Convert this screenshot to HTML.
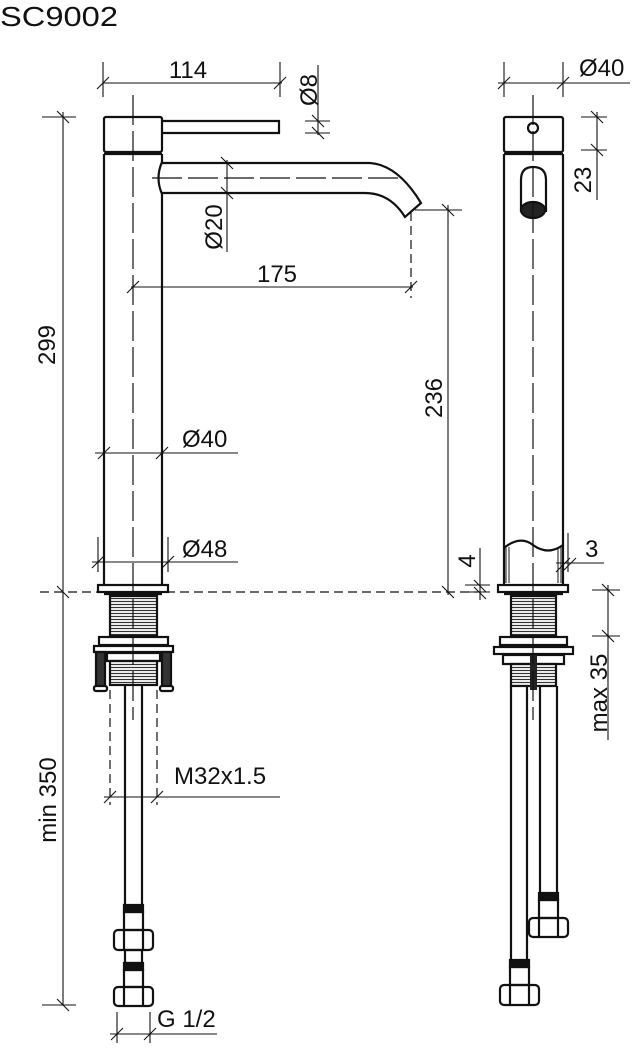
<!DOCTYPE html>
<html><head><style>
html,body{margin:0;padding:0;background:#fff;}
svg{display:block;}
text{font-family:"Liberation Sans",sans-serif;fill:#111;}
</style></head><body>
<svg width="635" height="1050" viewBox="0 0 635 1050" xmlns="http://www.w3.org/2000/svg">
<defs>
<pattern id="thr" width="4" height="3" patternUnits="userSpaceOnUse"><rect width="4" height="3" fill="#fff"/><line x1="0" y1="1.5" x2="4" y2="1.5" stroke="#333" stroke-width="1.2"/></pattern>
</defs>
<text x="0" y="26" font-size="28" textLength="118" lengthAdjust="spacingAndGlyphs">SC9002</text>

<!-- ===== LEFT VIEW ===== -->
<g fill="none" stroke="#111" stroke-width="2.2">
<rect x="104" y="117" width="58" height="35" rx="2"/>
<line x1="104" y1="154" x2="162" y2="154"/>
<path d="M162 121 H279 V133 H162"/>
<line x1="104" y1="154" x2="104" y2="585"/>
<line x1="162" y1="154" x2="162" y2="162"/>
<line x1="162" y1="194" x2="162" y2="585"/>
<path d="M162 162 Q155 178 162 194"/>
<path d="M162 163 H370 Q398 165 421 203 L405 217 Q390 193 365 193 H162"/>
<rect x="98" y="585" width="70" height="7"/>
<line x1="104" y1="594" x2="162" y2="594"/>
<rect x="110" y="596" width="47" height="40" fill="url(#thr)"/>
<rect x="99" y="637" width="69" height="8"/>
<rect x="94" y="646" width="79" height="6"/>
<rect x="107" y="653" width="53" height="8"/>
<rect x="110" y="661" width="47" height="24" fill="url(#thr)"/>
<rect x="96" y="652" width="9" height="36" fill="#333"/>
<rect x="162" y="652" width="9" height="36" fill="#333"/>
<rect x="94" y="686" width="13" height="5" rx="2" fill="#fff"/>
<rect x="160" y="686" width="13" height="5" rx="2" fill="#fff"/>
<line x1="125" y1="685" x2="125" y2="905"/>
<line x1="142" y1="685" x2="142" y2="905"/>
<rect x="124" y="905" width="19" height="7" fill="#111"/>
<rect x="124" y="912" width="19" height="18"/>
<rect x="114" y="930" width="39" height="20" rx="4"/>
<line x1="124" y1="930" x2="124" y2="950"/><line x1="143" y1="930" x2="143" y2="950"/>
<rect x="125" y="950" width="17" height="13"/>
<rect x="124" y="963" width="19" height="7" fill="#111"/>
<rect x="124" y="970" width="19" height="17"/>
<rect x="114" y="987" width="39" height="19" rx="4"/>
<line x1="124" y1="987" x2="124" y2="1006"/><line x1="143" y1="987" x2="143" y2="1006"/>
</g>
<g fill="none" stroke="#111" stroke-width="1.2" stroke-dasharray="30,6">
<line x1="133" y1="95" x2="133" y2="720"/>
<line x1="152" y1="178" x2="400" y2="178"/>
</g>
<g fill="none" stroke="#111" stroke-width="1.2" stroke-dasharray="9,5">
<line x1="411" y1="212" x2="411" y2="298"/>
<line x1="40" y1="592" x2="478" y2="592"/>
<line x1="110" y1="690" x2="110" y2="805"/>
<line x1="157" y1="690" x2="157" y2="805"/>
</g>

<g fill="none" stroke="#111" stroke-width="1.1">
<line x1="103" y1="62" x2="103" y2="97"/><line x1="280" y1="62" x2="280" y2="97"/>
<line x1="103" y1="83" x2="282" y2="83"/>
<line x1="97" y1="89" x2="109" y2="77"/><line x1="274" y1="89" x2="286" y2="77"/>
<line x1="318" y1="65" x2="318" y2="135"/>
<line x1="305" y1="121" x2="330" y2="121"/><line x1="305" y1="133" x2="330" y2="133"/>
<line x1="312" y1="115" x2="324" y2="127"/><line x1="312" y1="127" x2="324" y2="139"/>
<line x1="42" y1="117" x2="76" y2="117"/>
<line x1="63" y1="112" x2="63" y2="1005"/>
<line x1="57" y1="111" x2="69" y2="123"/>
<line x1="57" y1="586" x2="69" y2="598"/>
<line x1="42" y1="1005" x2="76" y2="1005"/>
<line x1="57" y1="999" x2="69" y2="1011"/>
<line x1="227" y1="160" x2="227" y2="252"/>
<line x1="221" y1="157" x2="233" y2="169"/><line x1="221" y1="187" x2="233" y2="199"/>
<line x1="131" y1="287" x2="413" y2="287"/>
<line x1="127" y1="293" x2="139" y2="281"/><line x1="405" y1="293" x2="417" y2="281"/>
<line x1="415" y1="210" x2="462" y2="210"/>
<line x1="448" y1="205" x2="448" y2="595"/>
<line x1="442" y1="204" x2="454" y2="216"/><line x1="442" y1="586" x2="454" y2="598"/>
<line x1="95" y1="453" x2="238" y2="453"/>
<line x1="98" y1="459" x2="110" y2="447"/><line x1="156" y1="459" x2="168" y2="447"/>
<line x1="98" y1="537" x2="98" y2="572"/><line x1="168" y1="537" x2="168" y2="572"/>
<line x1="92" y1="562" x2="238" y2="562"/>
<line x1="92" y1="568" x2="104" y2="556"/><line x1="162" y1="568" x2="174" y2="556"/>
<line x1="104" y1="797" x2="280" y2="797"/>
<line x1="104" y1="803" x2="116" y2="791"/><line x1="151" y1="803" x2="163" y2="791"/>
<line x1="117" y1="1012" x2="117" y2="1043"/><line x1="150" y1="1012" x2="150" y2="1043"/>
<line x1="110" y1="1034" x2="217" y2="1034"/>
<line x1="111" y1="1040" x2="123" y2="1028"/><line x1="144" y1="1040" x2="156" y2="1028"/>
</g>
<g font-size="24">
<text x="188" y="78" text-anchor="middle">114</text>
<text transform="translate(317,90) rotate(-90)" text-anchor="middle">Ø8</text>
<text transform="translate(55,345) rotate(-90)" text-anchor="middle">299</text>
<text transform="translate(222,227) rotate(-90)" text-anchor="middle">Ø20</text>
<text x="277" y="282" text-anchor="middle">175</text>
<text transform="translate(442,398) rotate(-90)" text-anchor="middle">236</text>
<text x="182" y="447">Ø40</text>
<text x="182" y="557">Ø48</text>
<text transform="translate(56,800) rotate(-90)" text-anchor="middle">min 350</text>
<text x="174" y="784">M32x1.5</text>
<text x="157" y="1027">G 1/2</text>
</g>

<!-- ===== RIGHT VIEW ===== -->
<g fill="none" stroke="#111" stroke-width="2.2">
<rect x="504" y="117" width="59" height="35" rx="2"/>
<line x1="504" y1="154" x2="563" y2="154"/>
<line x1="504" y1="154" x2="504" y2="585"/>
<line x1="563" y1="154" x2="563" y2="585"/>
<circle cx="533" cy="128" r="5"/>
<path d="M521 212 V180 Q521 167 533 167 Q546 167 546 180 V212"/>
<ellipse cx="533" cy="210" rx="12" ry="8" fill="#222"/>
<path d="M504 548 Q520 535 533 545 Q548 556 563 545"/>
<rect x="498" y="585" width="70" height="7"/>
<line x1="504" y1="594" x2="563" y2="594"/>
<rect x="511" y="596" width="45" height="40" fill="url(#thr)"/>
<rect x="500" y="637" width="67" height="8"/>
<rect x="494" y="647" width="79" height="7"/>
<rect x="503" y="655" width="61" height="9"/>
<rect x="511" y="664" width="45" height="22" fill="url(#thr)"/>
<line x1="511" y1="686" x2="511" y2="960"/>
<line x1="527" y1="686" x2="527" y2="960"/>
<line x1="540" y1="686" x2="540" y2="893"/>
<line x1="557" y1="686" x2="557" y2="893"/>
<rect x="539" y="893" width="19" height="7" fill="#111"/>
<rect x="539" y="900" width="19" height="18"/>
<rect x="529" y="918" width="39" height="19" rx="4"/>
<line x1="539" y1="918" x2="539" y2="937"/><line x1="558" y1="918" x2="558" y2="937"/>
<rect x="510" y="960" width="19" height="7" fill="#111"/>
<rect x="510" y="967" width="19" height="18"/>
<rect x="500" y="985" width="39" height="20" rx="4"/>
<line x1="510" y1="985" x2="510" y2="1005"/><line x1="529" y1="985" x2="529" y2="1005"/>
</g>
<rect x="530" y="655" width="7" height="35" fill="#222"/>
<g stroke="#111" stroke-width="1" fill="none">
<line x1="506" y1="548" x2="506" y2="583"/><line x1="509" y1="547" x2="509" y2="583"/>
<line x1="558" y1="547" x2="558" y2="583"/><line x1="561" y1="547" x2="561" y2="583"/>
</g>
<g fill="none" stroke="#111" stroke-width="1.2" stroke-dasharray="30,6">
<line x1="533" y1="95" x2="533" y2="720"/>
</g>
<g fill="none" stroke="#111" stroke-width="1.1">
<line x1="504" y1="62" x2="504" y2="97"/><line x1="563" y1="62" x2="563" y2="97"/>
<line x1="498" y1="83" x2="630" y2="83"/>
<line x1="498" y1="89" x2="510" y2="77"/><line x1="557" y1="89" x2="569" y2="77"/>
<line x1="581" y1="117" x2="607" y2="117"/><line x1="581" y1="150" x2="607" y2="150"/>
<line x1="597" y1="112" x2="597" y2="200"/>
<line x1="591" y1="111" x2="603" y2="123"/><line x1="591" y1="144" x2="603" y2="156"/>
<line x1="480" y1="548" x2="480" y2="600"/>
<line x1="465" y1="585" x2="490" y2="585"/><line x1="465" y1="592" x2="490" y2="592"/>
<line x1="474" y1="580" x2="486" y2="592"/><line x1="474" y1="587" x2="486" y2="599"/>
<line x1="568" y1="533" x2="568" y2="572"/>
<line x1="556" y1="563" x2="604" y2="563"/>
<line x1="556" y1="572" x2="570" y2="558"/><line x1="562" y1="572" x2="576" y2="558"/>
<line x1="592" y1="590" x2="620" y2="590"/><line x1="592" y1="636" x2="620" y2="636"/>
<line x1="608" y1="585" x2="608" y2="740"/>
<line x1="602" y1="584" x2="614" y2="596"/><line x1="602" y1="630" x2="614" y2="642"/>
</g>
<g font-size="24">
<text x="579" y="76">Ø40</text>
<text transform="translate(591,180) rotate(-90)" text-anchor="middle">23</text>
<text transform="translate(475,561) rotate(-90)" text-anchor="middle">4</text>
<text x="585" y="557">3</text>
<text transform="translate(607,693) rotate(-90)" text-anchor="middle">max 35</text>
</g>
</svg>
</body></html>
